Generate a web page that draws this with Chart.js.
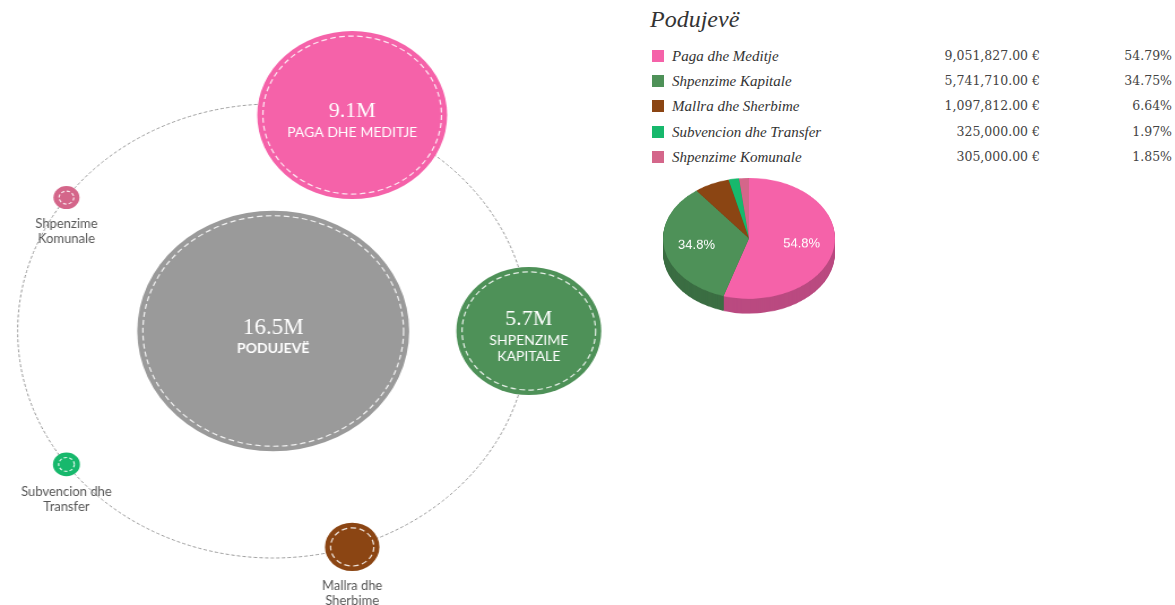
<!DOCTYPE html>
<html>
<head>
<meta charset="utf-8">
<script src="https://cdn.jsdelivr.net/npm/chart.js@4.4.0/dist/chart.umd.min.js"></script>
<style>
  html, body { margin:0; padding:0; background:#fff; width:1175px; height:605px; overflow:hidden; }
  #bubbleWrap { position:absolute; left:0; top:0; width:566px; height:605px; transform:scaleX(1.1307); transform-origin:0 0; }
  #pieWrap { position:absolute; left:649px; top:168px; width:200px; height:240px; transform:scaleY(0.703); transform-origin:0 0; }
  #legendTitle { position:absolute; left:650px; top:6px; font-family:"Liberation Serif", serif; font-style:italic; font-size:24px; color:#333; }
  .row { position:absolute; left:652px; width:523px; height:20px; }
  .sw { position:absolute; left:0; top:4px; width:12px; height:12px; }
  .nm { position:absolute; left:20px; top:0; font-family:"Liberation Serif", serif; font-style:italic; font-size:15px; line-height:20px; color:#333; white-space:nowrap; }
  .val { position:absolute; right:135px; top:0; font-family:"DejaVu Serif", serif; font-size:12.5px; line-height:20px; color:#444; white-space:nowrap; }
  .pct { position:absolute; right:3px; top:0; font-family:"DejaVu Serif", serif; font-size:12.5px; line-height:20px; color:#444; white-space:nowrap; }
</style>
</head>
<body>
<div id="bubbleWrap"><canvas id="bubble" width="566" height="605" style="width:566px;height:605px"></canvas></div>
<div id="pieWrap"><canvas id="pie" width="200" height="240" style="width:200px;height:240px"></canvas></div>
<div id="legendTitle"></div>
<div id="legendRows"></div>
<script>
// ---------- DATA ----------
const totalName = 'Podujevë';
const categories = ['Paga dhe Meditje', 'Shpenzime Kapitale', 'Mallra dhe Sherbime', 'Subvencion dhe Transfer', 'Shpenzime Komunale'];
const values = [9051827, 5741710, 1097812, 325000, 305000];
const colors = ['#F562A9', '#4E9158', '#8B4513', '#17B86C', '#D4668A'];
const totalColor = '#9a9a9a';

// ---------- derived ----------
const total = values.reduce((a, b) => a + b, 0);
const fmtM = v => (v / 1e6).toFixed(1) + 'M';
const K = 1.1307;          // horizontal stretch of bubble canvas
const PIE_SQ = 0.703;      // vertical squash of pie canvas

function radiusFor(v) {
  const p = 0.6, rMin = 11.5, rMax = 84;
  const lo = Math.pow(Math.min(...values), p), hi = Math.pow(Math.max(...values), p);
  return rMin + (Math.pow(v, p) - lo) / (hi - lo) * (rMax - rMin);
}

const points = [{ x: 0, y: 0, r: radiusFor(total) }].concat(values.map((v, i) => {
  const a = (72 - i * 72) * Math.PI / 180;
  return { x: Math.cos(a), y: Math.sin(a), r: radiusFor(v) };
}));
const bubbleColors = [totalColor].concat(colors);
const bubbleValues = [total].concat(values);
const bubbleNames = [totalName].concat(categories);

function drawText(ctx, text, x, y, font, color, sx, sy) {
  ctx.save();
  ctx.translate(x, y);
  ctx.scale(sx, sy);
  ctx.font = font;
  ctx.fillStyle = color;
  ctx.textAlign = 'center';
  ctx.textBaseline = 'middle';
  ctx.fillText(text, 0, 0);
  ctx.restore();
}
function wrap(ctx, text, font, maxW) {
  ctx.save(); ctx.font = font;
  const words = text.split(' '); const lines = []; let cur = '';
  words.forEach(w => {
    const t = cur ? cur + ' ' + w : w;
    if (ctx.measureText(t).width > maxW && cur) { lines.push(cur); cur = w; } else cur = t;
  });
  if (cur) lines.push(cur);
  ctx.restore();
  return lines;
}

const orbitPlugin = {
  id: 'orbit',
  beforeDatasetsDraw(chart) {
    const { ctx, scales: { x, y } } = chart;
    const cx = x.getPixelForValue(0), cy = y.getPixelForValue(0);
    const rx = x.getPixelForValue(1) - cx, ry = cy - y.getPixelForValue(1);
    ctx.save();
    ctx.beginPath();
    ctx.ellipse(cx, cy, rx, ry, 0, 0, Math.PI * 2);
    ctx.setLineDash([3, 2]);
    ctx.strokeStyle = '#9a9a9a';
    ctx.lineWidth = 1;
    ctx.stroke();
    ctx.restore();
  },
  afterDatasetsDraw(chart) {
    const ctx = chart.ctx;
    const meta = chart.getDatasetMeta(0);
    meta.data.forEach((el, i) => {
      const r = points[i].r;
      ctx.save();
      ctx.beginPath();
      ctx.arc(el.x, el.y, Math.max(r - 5, 4), 0, Math.PI * 2);
      ctx.setLineDash(r > 20 ? [5, 3] : [3, 2]);
      ctx.strokeStyle = 'rgba(255,255,255,0.85)';
      ctx.lineWidth = 1.2;
      ctx.stroke();
      ctx.restore();
      const name = bubbleNames[i];
      if (r > 40) {
        const nameFont = (i === 0 ? 'bold ' : '') + '14px Lato, sans-serif';
        const lines = wrap(ctx, name.toUpperCase(), nameFont, r * K * 1.5);
        const total_h = 22 + 16 * lines.length;
        const yy = el.y - total_h / 2 + 2;
        drawText(ctx, fmtM(bubbleValues[i]), el.x, yy + 13.5, (i === 0 ? '23px' : '22px') + ' "Liberation Serif", serif', '#fff', 1 / K, 1);
        lines.forEach((l, j) => drawText(ctx, l, el.x, yy + 34 + j * 16, nameFont, '#fff', 1 / K, 1));
      } else {
        const f = '13px Lato, sans-serif';
        const lines = wrap(ctx, name, f, 105);
        lines.forEach((l, j) => drawText(ctx, l, el.x, el.y + r + 15 + j * 15, f, '#555', 1 / K, 1));
      }
    });
  }
};

new Chart(document.getElementById('bubble'), {
  type: 'bubble',
  data: { datasets: [{ data: points, backgroundColor: bubbleColors, borderWidth: 0, hoverRadius: 0, clip: false }] },
  options: {
    responsive: false, animation: false, events: [],
    layout: { padding: 0, autoPadding: false },
    scales: {
      x: { type: 'linear', display: false, min: -1.069, max: 1.435 },
      y: { type: 'linear', display: false, min: -1.207, max: 1.458 }
    },
    plugins: { legend: { display: false }, tooltip: { enabled: false } }
  },
  plugins: [orbitPlugin]
});

// ---------- PIE ----------
function darker(hex, f) {
  const n = parseInt(hex.slice(1), 16);
  const r = Math.round(((n >> 16) & 255) * f), g = Math.round(((n >> 8) & 255) * f), b = Math.round((n & 255) * f);
  return `rgb(${r},${g},${b})`;
}
const sideColors = colors.map(c => darker(c, 0.76));
const pie3d = {
  id: 'pie3d',
  beforeDatasetsDraw(chart) {
    const ctx = chart.ctx, meta = chart.getDatasetMeta(0), DEPTH = 21;
    ctx.save();
    for (let d = DEPTH; d >= 1; d--) {
      meta.data.forEach((a, i) => {
        ctx.beginPath();
        ctx.moveTo(a.x, a.y + d);
        ctx.arc(a.x, a.y + d, a.outerRadius, a.startAngle, a.endAngle);
        ctx.closePath();
        ctx.fillStyle = sideColors[i];
        ctx.fill();
      });
    }
    ctx.restore();
  },
  afterDatasetsDraw(chart) {
    const ctx = chart.ctx, meta = chart.getDatasetMeta(0);
    meta.data.forEach((a, i) => {
      const pct = values[i] / total * 100;
      if (pct < 10) return;
      const mid = (a.startAngle + a.endAngle) / 2;
      const px = a.x + Math.cos(mid) * a.outerRadius * 0.62;
      const py = a.y + Math.sin(mid) * a.outerRadius * 0.62;
      drawText(ctx, pct.toFixed(1) + '%', px, py, '13px "Liberation Sans", Arial, sans-serif', '#fff', 1, 1 / PIE_SQ);
    });
  }
};
new Chart(document.getElementById('pie'), {
  type: 'pie',
  data: { labels: categories, datasets: [{ data: values, backgroundColor: colors, borderWidth: 0 }] },
  options: {
    responsive: false, animation: false, events: [],
    layout: { padding: { left: 14, right: 14, top: 14, bottom: 54 } },
    plugins: { legend: { display: false }, tooltip: { enabled: false } }
  },
  plugins: [pie3d]
});

// ---------- LEGEND ----------
document.getElementById('legendTitle').textContent = totalName;
const rowsEl = document.getElementById('legendRows');
const rowTops = 46, rowStep = 25.2;
categories.forEach((c, i) => {
  const row = document.createElement('div');
  row.className = 'row';
  row.style.top = (rowTops + i * rowStep) + 'px';
  row.innerHTML = `<div class="sw" style="background:${colors[i]}"></div>` +
    `<div class="nm">${c}</div>` +
    `<div class="val">${values[i].toLocaleString('en-US', { minimumFractionDigits: 2, maximumFractionDigits: 2 })} €</div>` +
    `<div class="pct">${(values[i] / total * 100).toFixed(2)}%</div>`;
  rowsEl.appendChild(row);
});
</script>
</body>
</html>
